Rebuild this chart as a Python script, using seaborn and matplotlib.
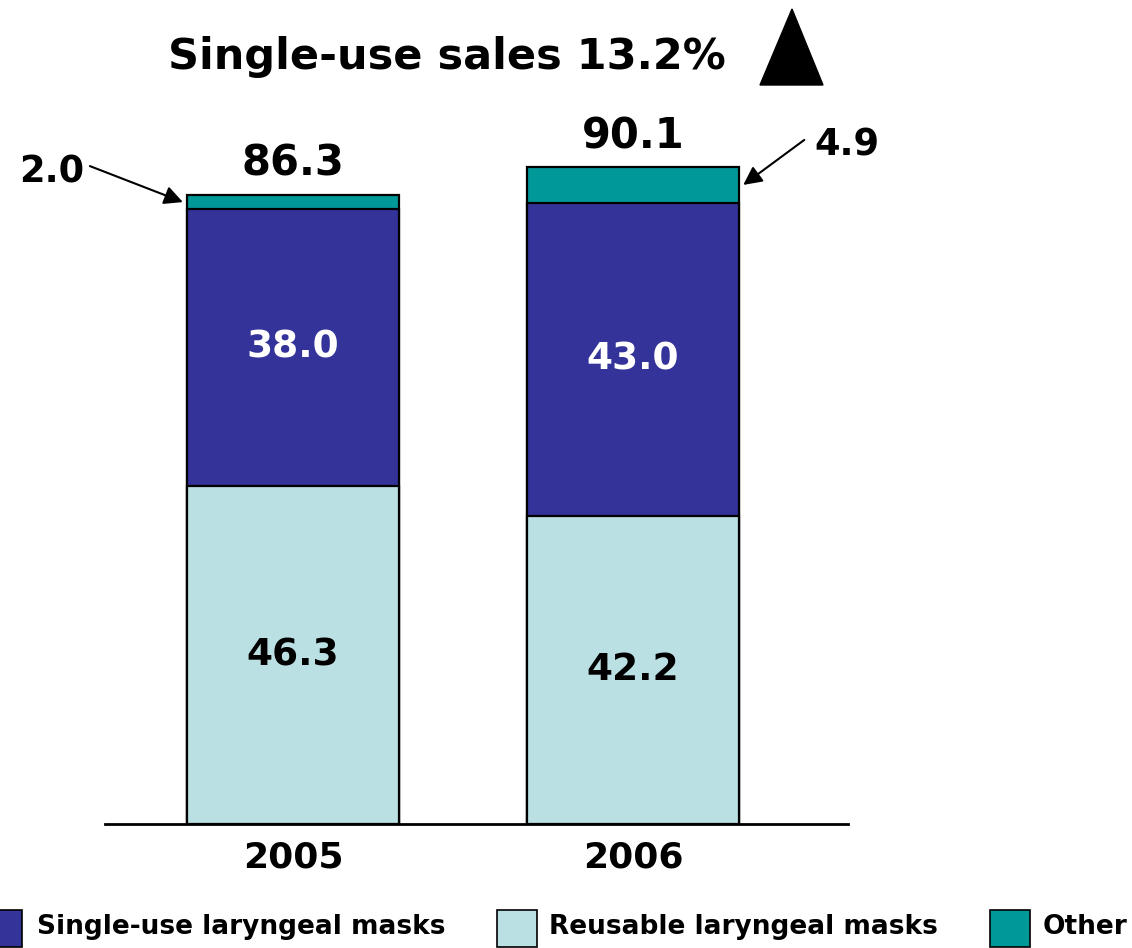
import matplotlib
matplotlib.use("Agg")
import matplotlib.pyplot as plt
from matplotlib.patches import Polygon, Rectangle
import seaborn as sns
import pandas as pd

# Sales by segment (stacked): reusable at the bottom, single-use, then other
years = ["2005", "2006"]
reusable = [46.3, 42.2]
single_use = [38.0, 43.0]
other = [2.0, 4.9]
totals = [86.3, 90.1]
title_text = "Single-use sales 13.2%"
legend_labels = ["Single-use laryngeal masks", "Reusable laryngeal masks", "Other"]

c_single = "#333399"
c_reuse = "#BBE0E3"
c_other = "#009999"

sns.set_theme(style="white")
plt.rcParams["font.family"] = ["DejaVu Sans"]
plt.rcParams["text.color"] = "black"
plt.rcParams["xtick.color"] = "black"

W, H = 1132, 948
fig = plt.figure(figsize=(W / 100, H / 100), dpi=100)
ax = fig.add_axes([105 / W, 1 - 824 / H, (848 - 105) / W, 724 / H])

df = pd.DataFrame({
    "year": years,
    "reusable": reusable,
    "single": single_use,
    "other": other,
})
df["lvl2"] = df["reusable"] + df["single"]
df["lvl3"] = df["lvl2"] + df["other"]

bw = 0.624
edge = dict(edgecolor="black", linewidth=1.6)
# Overlay cumulative heights so each visible band is one segment
sns.barplot(data=df, x="year", y="lvl3", color=c_other, saturation=1,
            width=bw, errorbar=None, ax=ax, **edge)
sns.barplot(data=df, x="year", y="lvl2", color=c_single, saturation=1,
            width=bw, errorbar=None, ax=ax, **edge)
sns.barplot(data=df, x="year", y="reusable", color=c_reuse, saturation=1,
            width=bw, errorbar=None, ax=ax, **edge)

ax.set_xlim(-0.553, 1.632)
ax.set_ylim(0, 99.3)
ax.set_xlabel("")
ax.set_ylabel("")
ax.set_yticks([])
for s in ["left", "top", "right"]:
    ax.spines[s].set_visible(False)
ax.spines["bottom"].set_color("black")
ax.spines["bottom"].set_linewidth(2)
ax.tick_params(axis="x", length=0, pad=12, colors="black")
for lab in ax.get_xticklabels():
    lab.set_fontsize(26)
    lab.set_fontweight("bold")
    lab.set_color("black")

seg_fs = 27
for i in range(len(years)):
    r, s_, o = df.loc[i, ["reusable", "single", "other"]]
    ax.text(i, r / 2, f"{r:.1f}", ha="center", va="center",
            fontsize=seg_fs, fontweight="bold", color="black")
    ax.text(i, r + s_ / 2, f"{s_:.1f}", ha="center", va="center",
            fontsize=seg_fs, fontweight="bold", color="white")
    ax.annotate(f"{totals[i]:.1f}", xy=(i, df.loc[i, "lvl3"]),
                xytext=(0, 10), textcoords="offset pixels",
                ha="center", va="bottom", fontsize=30, fontweight="bold",
                color="black")

# Call-outs for the thin "Other" segments: arrow, then its label
callouts = [
    (0, -bw / 2 - 0.012, (-93, 36), (-131, 30)),
    (1, bw / 2 + 0.012, (61, 45), (104, 40)),
]
for i, dx, tail, txt in callouts:
    head = (i + dx, reusable[i] + single_use[i] + other[i] / 2)
    ax.annotate("", xy=head, xytext=tail, textcoords="offset pixels",
                arrowprops=dict(arrowstyle="-|>", color="black", lw=1.5,
                                mutation_scale=28, shrinkA=0, shrinkB=0))
    ax.annotate(f"{other[i]:.1f}", xy=head, xytext=txt,
                textcoords="offset pixels", ha="center", va="center",
                fontsize=26.5, fontweight="bold", color="black")

# Title with upward triangle
fig.text(168 / W, 1 - 57 / H, title_text, ha="left", va="center",
         fontsize=31, fontweight="bold", color="black")
tri = Polygon([[760 / W, 1 - 85 / H], [823 / W, 1 - 85 / H], [792 / W, 1 - 9 / H]],
              closed=True, facecolor="black", edgecolor="black",
              transform=fig.transFigure)
fig.patches.append(tri)

# Legend row along the bottom edge
leg = [(-18, c_single, 37), (497, c_reuse, 549), (990, c_other, 1043)]
for (px, col, tx), lab in zip(leg, legend_labels):
    fig.patches.append(Rectangle((px / W, 1 / H), 40 / W, 37 / H,
                                 facecolor=col, edgecolor="black", lw=1.2,
                                 transform=fig.transFigure))
    fig.text(tx / W, 21 / H, lab, ha="left", va="center",
             fontsize=19, fontweight="bold", color="black")

fig.savefig("out.png", dpi=100)
